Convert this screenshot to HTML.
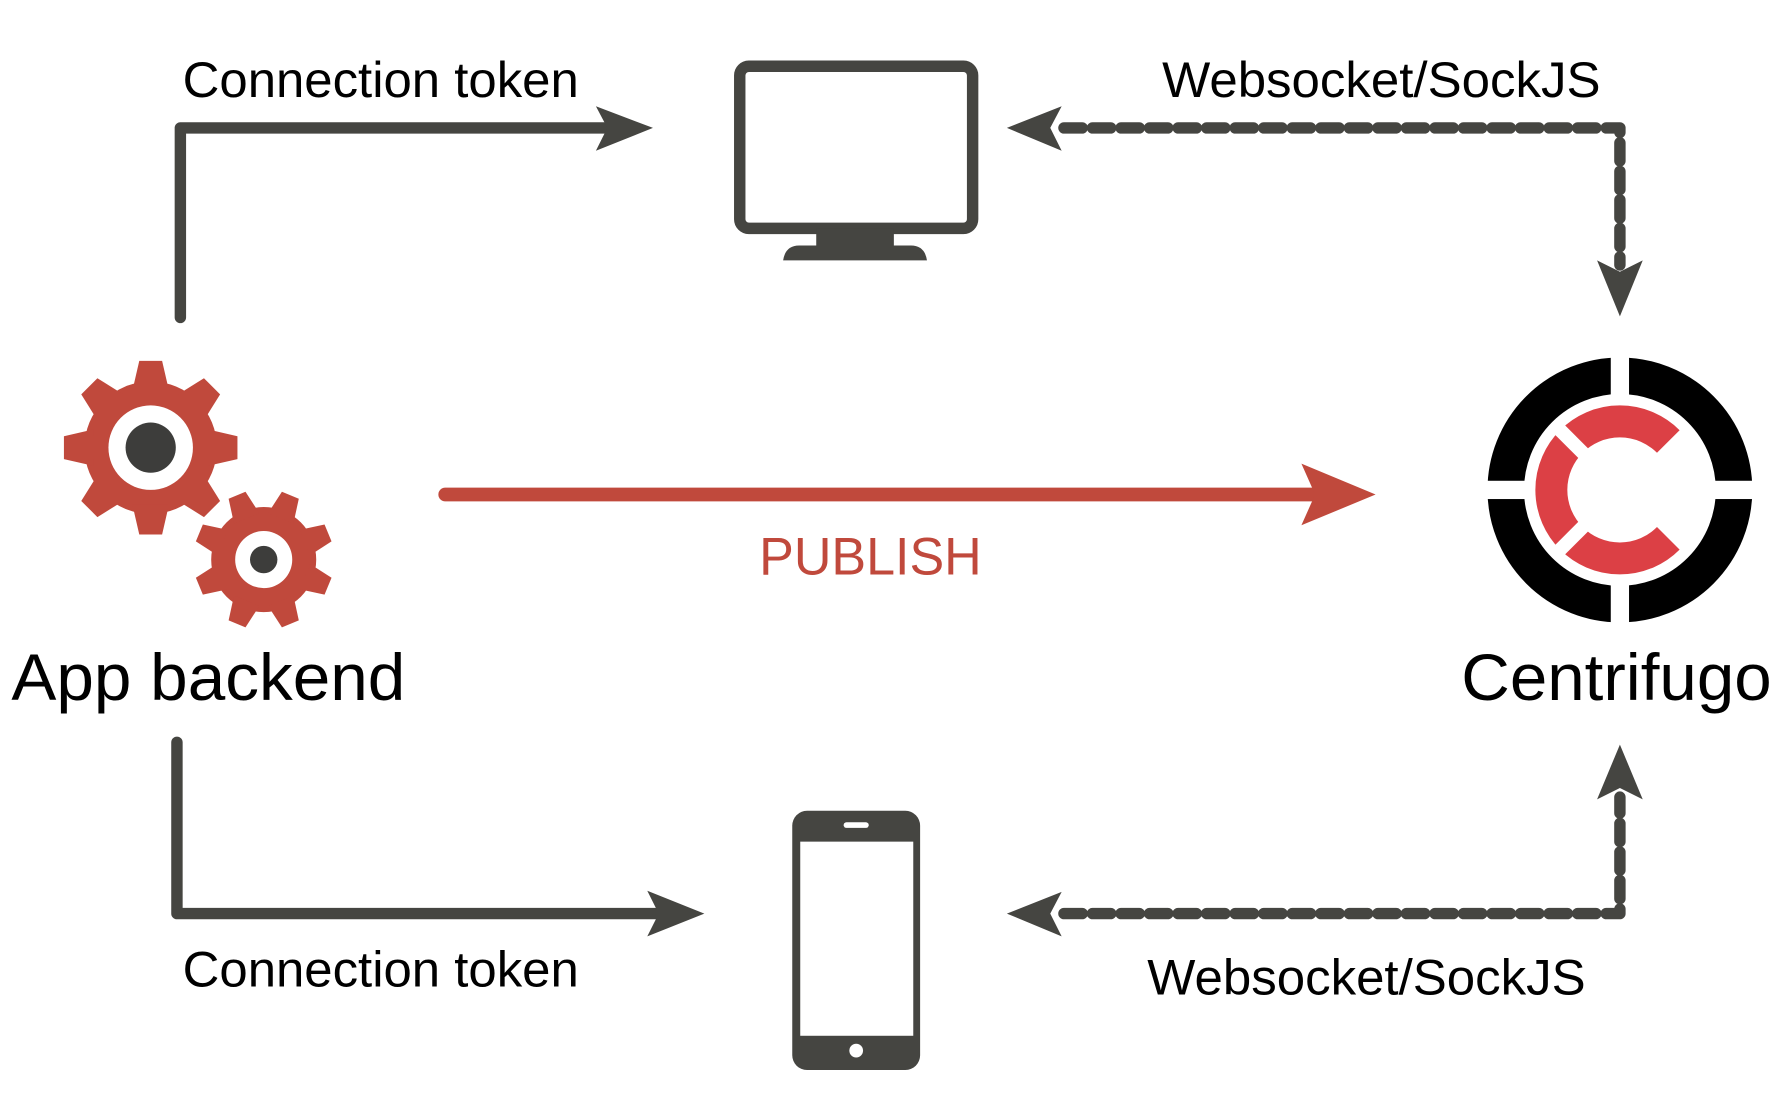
<!DOCTYPE html>
<html><head><meta charset="utf-8"><style>
html,body{margin:0;padding:0;background:#fff;}
svg{display:block;}
text{font-family:"Liberation Sans",Arial,sans-serif;}
</style></head><body>
<svg width="1790" height="1118" viewBox="0 0 1568 979" preserveAspectRatio="none" xmlns="http://www.w3.org/2000/svg">
<rect width="1568" height="979" fill="#fff"/>
<g fill="none" stroke="#454541" stroke-width="10" stroke-linejoin="round">
<path d="M158 278 V112 H530" stroke-linecap="round"/>
<path d="M155 650 V800 H575" stroke-linecap="round"/>
<path d="M932 112 H1419 V232" stroke-dasharray="16 9" stroke-linecap="round"/>
<path d="M932 800 H1419 V698" stroke-dasharray="16 9" stroke-linecap="round"/>
</g>
<g fill="#454541">
<polygon points="522,93 572,112 522,132 532,112"/>
<polygon points="567,780 617,800 567,820 577,800"/>
<polygon points="930,93 882,112 930,132 920,112"/>
<polygon points="930,781 882,800 930,820 920,800"/>
<polygon points="1399,228 1419,277 1439,228 1419,238"/>
<polygon points="1399,700 1419,652 1439,700 1419,690"/>
</g>
<path d="M390 433 H1152" stroke="#c0493c" stroke-width="12" stroke-linecap="round"/>
<polygon points="1140,406 1205,433 1140,460 1152,433" fill="#c0493c"/>
<text x="665" y="503" font-size="46" fill="#c0493c" textLength="195" lengthAdjust="spacingAndGlyphs">PUBLISH</text>
<rect x="648" y="58" width="204" height="142" rx="8" fill="none" stroke="#454541" stroke-width="10"/>
<rect x="715" y="200" width="68" height="16" fill="#454541"/>
<path d="M686 228 Q688 215 700 215 H798 Q810 215 812 228 Z" fill="#454541"/>
<rect x="694" y="710" width="112" height="227" rx="13" fill="#454541"/>
<rect x="701" y="737" width="99" height="170" fill="#fff"/>
<rect x="739" y="720" width="22" height="5" rx="2.5" fill="#fff"/>
<circle cx="750" cy="920" r="6" fill="#fff"/>
<g fill="#c0493c">
<g transform="translate(132,392)">
<circle r="58"/>
<g id="t1"><polygon points="-16,-50 16,-50 10,-76 -10,-76"/></g>
<use href="#t1" transform="rotate(45)"/><use href="#t1" transform="rotate(90)"/><use href="#t1" transform="rotate(135)"/>
<use href="#t1" transform="rotate(180)"/><use href="#t1" transform="rotate(225)"/><use href="#t1" transform="rotate(270)"/><use href="#t1" transform="rotate(315)"/>
<circle r="37" fill="#fff"/><circle r="22" fill="#3d3d3b"/>
</g>
<g transform="translate(231,490) rotate(22.5)">
<circle r="46"/>
<g id="t2"><polygon points="-12,-39 12,-39 8,-61 -8,-61"/></g>
<use href="#t2" transform="rotate(45)"/><use href="#t2" transform="rotate(90)"/><use href="#t2" transform="rotate(135)"/>
<use href="#t2" transform="rotate(180)"/><use href="#t2" transform="rotate(225)"/><use href="#t2" transform="rotate(270)"/><use href="#t2" transform="rotate(315)"/>
<circle r="25" fill="#fff"/><circle r="12" fill="#3d3d3b"/>
</g>
</g>
<circle cx="1419" cy="429" r="100" fill="none" stroke="#000" stroke-width="32"/>
<rect x="1290" y="421" width="260" height="16" fill="#fff"/>
<rect x="1411" y="300" width="16" height="260" fill="#fff"/>
<path d="M1461.4 386.6 A60 60 0 1 0 1461.4 471.4" fill="none" stroke="#dc4045" stroke-width="28"/>
<line x1="1392" y1="402" x2="1365" y2="375" stroke="#fff" stroke-width="12"/>
<line x1="1392" y1="456" x2="1365" y2="483" stroke="#fff" stroke-width="12"/>
<text x="160" y="85" font-size="44" fill="#000" textLength="347" lengthAdjust="spacingAndGlyphs">Connection token</text>
<text x="160" y="864" font-size="44" fill="#000" textLength="347" lengthAdjust="spacingAndGlyphs">Connection token</text>
<text x="1018" y="85" font-size="44" fill="#000" textLength="384" lengthAdjust="spacingAndGlyphs">Websocket/SockJS</text>
<text x="1005" y="871" font-size="44" fill="#000" textLength="384" lengthAdjust="spacingAndGlyphs">Websocket/SockJS</text>
<text x="10" y="613" font-size="58" fill="#000" textLength="345" lengthAdjust="spacingAndGlyphs">App backend</text>
<text x="1280" y="613" font-size="58" fill="#000" textLength="272" lengthAdjust="spacingAndGlyphs">Centrifugo</text>
</svg>
</body></html>
